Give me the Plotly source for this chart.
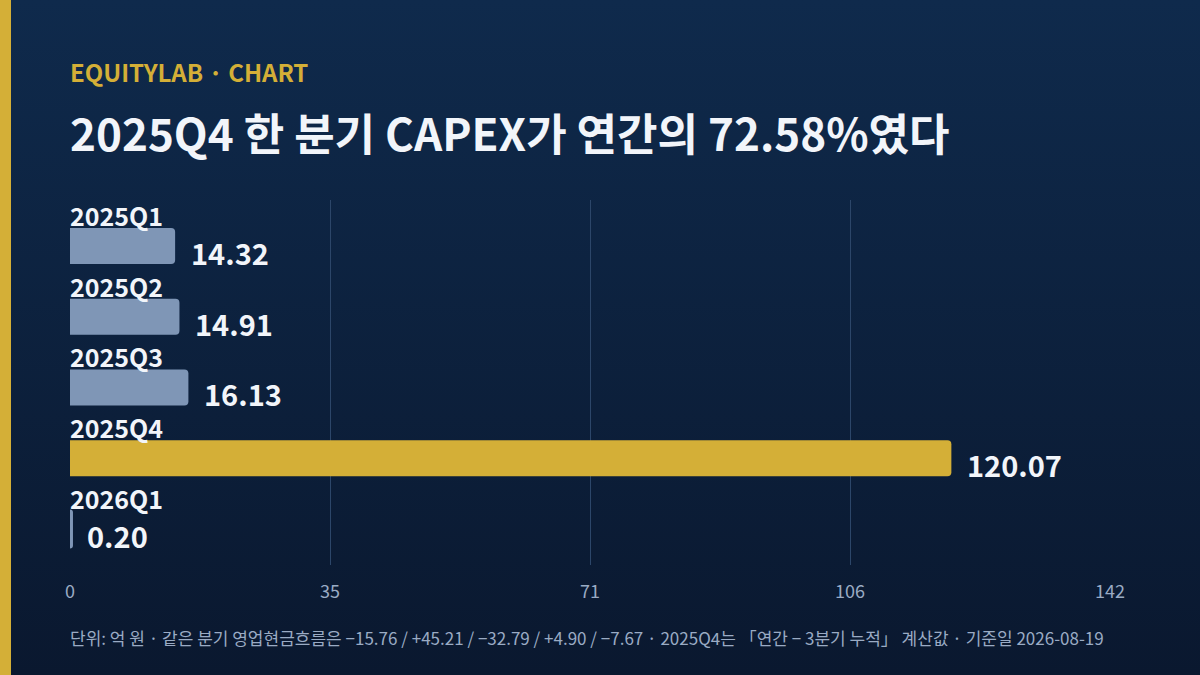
import base64
import plotly.graph_objects as go

quarters = ['2025Q1', '2025Q2', '2025Q3', '2025Q4', '2026Q1']
capex = [14.32, 14.91, 16.13, 120.07, 0.20]
highlight = '2025Q4'

x_max = 141.68
tick_vals = [0, x_max * 0.25, x_max * 0.5, x_max * 0.75, x_max]
tick_text = [f'{v:.0f}' for v in tick_vals]

GOLD = '#d4af37'
BAR = '#7f96b6'
FONT = 'Noto Sans CJK KR'

bar_colors = [GOLD if q == highlight else BAR for q in quarters]
# tiny bars get a thin outline so they stay visible
bar_lines = [3 if v < 1 else 0 for v in capex]

# background gradient as inline svg
svg = ('<svg xmlns="http://www.w3.org/2000/svg" width="1200" height="675">'
       '<defs><linearGradient id="g" x1="0" y1="0" x2="0" y2="1">'
       '<stop offset="0" stop-color="#0f2a4c"/><stop offset="1" stop-color="#0a182f"/>'
       '</linearGradient></defs><rect width="1200" height="675" fill="url(#g)"/></svg>')
bg_uri = 'data:image/svg+xml;base64,' + base64.b64encode(svg.encode()).decode()

fig = go.Figure(go.Bar(
    x=capex, y=quarters, orientation='h',
    marker=dict(color=bar_colors, line=dict(width=bar_lines, color=bar_colors)),
    width=0.51, hoverinfo='skip',
))

annotations = []
for q, v in zip(quarters, capex):
    annotations.append(dict(
        x=0, y=q, xref='x', yref='y', text=f'<b>{q}</b>', showarrow=False,
        xanchor='left', yanchor='middle', xshift=-2, yshift=31,
        font=dict(family=FONT, size=25, color='#f2f5fa'),
    ))
    annotations.append(dict(
        x=v, y=q, xref='x', yref='y', text=f'<b>{v:.2f}</b>', showarrow=False,
        xanchor='left', yanchor='middle', xshift=14, yshift=-6,
        font=dict(family=FONT, size=29, color='#f2f5fa'),
    ))

# header / footer placed by pixel, converted to paper coords below
texts = [
    (71, '<b>EQUITYLAB · CHART</b>', 24, GOLD),
    (132, '<b>2025Q4 한 분기 CAPEX가 연간의 72.58%였다</b>', 44, '#f2f5fa'),
    (637, '단위: 억 원 · 같은 분기 영업현금흐름은 −15.76 / +45.21 / −32.79 / +4.90 / −7.67 · '
          '2025Q4는 「연간 − 3분기 누적」 계산값 · 기준일 2026-08-19', 17, '#9aabc4'),
]
for py, t, size, color in texts:
    annotations.append(dict(
        x=0, y=(675 - py - 110) / 365, xref='paper', yref='paper', text=t,
        showarrow=False, xanchor='left', yanchor='middle', xshift=-2,
        font=dict(family=FONT, size=size, color=color),
    ))

fig.update_layout(
    width=1200, height=675,
    margin=dict(l=70, r=90, t=200, b=110),
    paper_bgcolor='#0c1f3b', plot_bgcolor='rgba(0,0,0,0)',
    barcornerradius=4,
    showlegend=False,
    font=dict(family=FONT),
    xaxis=dict(range=[0, x_max], tickvals=tick_vals, ticktext=tick_text,
               showgrid=True, gridcolor='#2c4669', gridwidth=1, zeroline=False,
               showline=False, ticks='', ticklabelstandoff=14,
               tickfont=dict(family=FONT, size=18, color='#9aabc4'),
               fixedrange=True),
    yaxis=dict(categoryorder='array', categoryarray=quarters,
               range=[4.51, -0.65], showticklabels=False, showgrid=False,
               zeroline=False, fixedrange=True),
    annotations=annotations,
    images=[dict(source=bg_uri, xref='paper', yref='paper',
                 x=-70 / 1040, y=(675 - 110) / 365, sizex=1200 / 1040, sizey=675 / 365,
                 xanchor='left', yanchor='top', sizing='stretch', layer='below')],
    shapes=[dict(type='rect', xref='paper', yref='paper',
                 x0=-70 / 1040, x1=-59 / 1040, y0=-110 / 365, y1=565 / 365,
                 fillcolor=GOLD, line=dict(width=0), layer='above')],
)

fig.write_html('out.html', post_script="document.body.style.margin='0';",
               config={'displayModeBar': False})
